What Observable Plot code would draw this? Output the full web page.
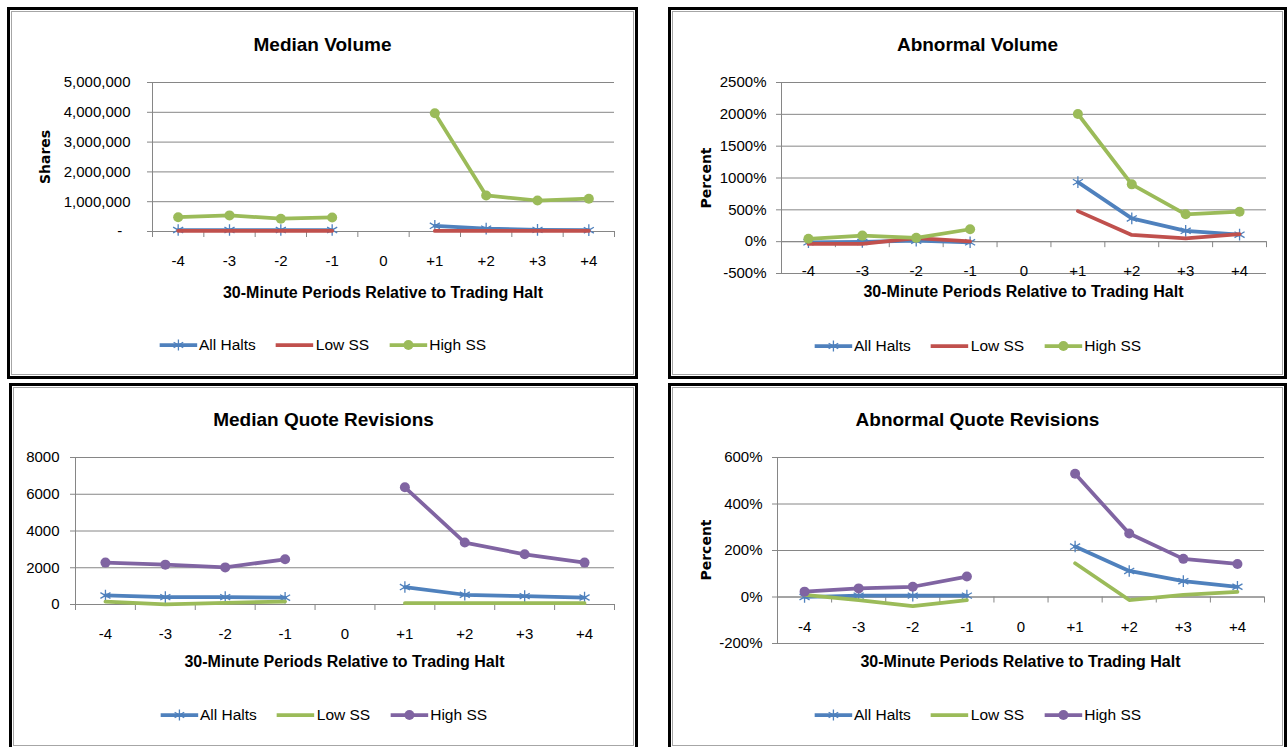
<!DOCTYPE html>
<html>
<head>
<meta charset="utf-8">
<script src="https://cdn.jsdelivr.net/npm/d3@7"></script>
<script src="https://cdn.jsdelivr.net/npm/@observablehq/plot@0.6"></script>
<style>
  html, body { margin: 0; padding: 0; background: #fff; }
  #page { position: relative; width: 1288px; height: 747px; overflow: hidden; font-family: "Liberation Sans", Arial, sans-serif; }
  .panel { position: absolute; box-sizing: border-box; border: 3px solid #000; }
  .panel .inner { position: absolute; left: 1px; top: 1px; right: 1px; bottom: 1px; border: 1.5px solid #a6a6a6; }
  .chart { position: absolute; }
  .txt { position: absolute; white-space: nowrap; line-height: 1; color: #000; }
  .title { font-weight: bold; font-size: 19px; transform: translate(-50%, -50%); }
  .xtitle { font-weight: bold; font-size: 16px; transform: translate(-50%, -50%); }
  .ytitle { font-family: "DejaVu Sans", sans-serif; font-weight: bold; font-size: 14px; transform: translate(-50%, -50%) rotate(-90deg); }
  .legend { position: absolute; display: flex; align-items: center; transform: translate(-50%, -50%); font-size: 15.5px; white-space: nowrap; }
  .legend .item { display: flex; align-items: center; margin: 0 10px; }
  .legend svg { display: block; margin-right: 2px; }
</style>
</head>
<body>
<div id="page"></div>
<script>
// ---------- data ----------
const periods = [-4, -3, -2, -1, 0, 1, 2, 3, 4];
const periodLabels = ["-4", "-3", "-2", "-1", "0", "+1", "+2", "+3", "+4"];
const seriesNames = ["All Halts", "Low SS", "High SS"];

// Median Volume (shares)
const volAll  = [50000, 50000, 50000, 50000, null, 190000, 95000, 55000, 45000];
const volLow  = [25000, 25000, 25000, 25000, null, 20000, 20000, 20000, 20000];
const volHigh = [480000, 540000, 430000, 470000, null, 3970000, 1210000, 1040000, 1100000];
const volTicks = [0, 1000000, 2000000, 3000000, 4000000, 5000000];

// Abnormal Volume (percent)
const abVolAll  = [-10, -5, 15, -10, null, 935, 365, 170, 110];
const abVolLow  = [-35, -35, 55, 5, null, 480, 105, 50, 120];
const abVolHigh = [45, 95, 60, 195, null, 2005, 900, 430, 470];
const abVolTicks = [-500, 0, 500, 1000, 1500, 2000, 2500];

// Median Quote Revisions
const qAll  = [490, 400, 400, 370, null, 950, 530, 455, 380];
const qLow  = [160, 10, 90, 160, null, 70, 70, 70, 70];
const qHigh = [2280, 2170, 2020, 2460, null, 6380, 3370, 2730, 2280];
const qTicks = [0, 2000, 4000, 6000, 8000];

// Abnormal Quote Revisions (percent)
const abQAll  = [0, 6, 6, 6, null, 217, 112, 68, 44];
const abQLow  = [9, -13, -39, -13, null, 145, -13, 9, 22];
const abQHigh = [23, 37, 44, 88, null, 530, 273, 164, 142];
const abQTicks = [-200, 0, 200, 400, 600];

// ---------- styles ----------
const blue = "#4F81BD", red = "#C0504D", green = "#9BBB59", purple = "#8064A2";
const gridColor = "#868686";
const lineW = 3.75;

const page = document.getElementById("page");

function legendSwatch(color, marker) {
  const w = 38, h = 14;
  let s = `<svg width="${w}" height="${h}"><line x1="0" x2="${w}" y1="${h/2}" y2="${h/2}" stroke="${color}" stroke-width="${lineW}" stroke-linecap="butt"/>`;
  const cx = w / 2, cy = h / 2;
  if (marker === "asterisk") {
    const r = 5.5;
    s += `<g stroke="${color}" stroke-width="1.3">`;
    s += `<line x1="${cx}" x2="${cx}" y1="${cy - r}" y2="${cy + r}"/>`;
    s += `<line x1="${cx - r*0.87}" x2="${cx + r*0.87}" y1="${cy - r/2}" y2="${cy + r/2}"/>`;
    s += `<line x1="${cx - r*0.87}" x2="${cx + r*0.87}" y1="${cy + r/2}" y2="${cy - r/2}"/>`;
    s += `</g>`;
  } else if (marker === "circle") {
    s += `<circle cx="${cx}" cy="${cy}" r="5" fill="${color}"/>`;
  }
  return s + `</svg>`;
}

function drawPanel(p) {
  const frame = document.createElement("div");
  frame.className = "panel";
  Object.assign(frame.style, { left: p.left + "px", top: p.top + "px", width: p.width + "px", height: p.height + "px" });
  frame.innerHTML = '<div class="inner"></div>';
  page.appendChild(frame);

  const mL = p.plotLeft - p.left, mR = p.left + p.width - p.plotRight;
  const mT = p.plotTop - p.top, mB = p.top + p.height - p.plotBottom;
  const innerH = p.plotBottom - p.plotTop;
  const tickLen = (p.yDomain[1] - p.yDomain[0]) * 6 / innerH;
  const boundaries = periods.map(d => d - 0.5).concat([periods[periods.length - 1] + 0.5]);

  const marks = [
    Plot.gridY(p.yTicks, { stroke: gridColor, strokeOpacity: 1, strokeWidth: 1 }),
    Plot.axisY(p.yTicks, { tickSize: 5, tickPadding: p.tickPadding, tickFormat: p.tickFormat, stroke: gridColor, fill: "#000", fontSize: 15, label: null }),
    Plot.ruleX([boundaries[0]], { stroke: gridColor, strokeWidth: 1 }),
    Plot.ruleY([0], { stroke: gridColor, strokeWidth: 1 }),
    Plot.ruleX(boundaries, { x: d => d, y1: 0, y2: -tickLen, stroke: gridColor, strokeWidth: 1 }),
    Plot.text(periodLabels, { x: (d, i) => periods[i], y: 0, dy: 30, text: d => d, fontSize: 15, fill: "#000" })
  ];
  p.series.forEach(s => {
    marks.push(Plot.line(s.values, { x: (d, i) => periods[i], y: d => d, stroke: s.color, strokeWidth: lineW, strokeLinejoin: "round", strokeLinecap: "round" }));
    if (s.marker === "asterisk") {
      marks.push(Plot.dot(s.values, { x: (d, i) => periods[i], y: d => d, filter: d => d != null, symbol: "asterisk", r: 5.5, stroke: s.color, strokeWidth: 1.3 }));
    } else if (s.marker === "circle") {
      marks.push(Plot.dot(s.values, { x: (d, i) => periods[i], y: d => d, filter: d => d != null, symbol: "circle", r: 5, fill: s.color, stroke: "none" }));
    }
  });

  const chart = Plot.plot({
    width: p.width, height: p.height,
    marginLeft: mL, marginRight: mR, marginTop: mT, marginBottom: mB,
    x: { domain: [-4.5, 4.5], axis: null },
    y: { domain: p.yDomain, axis: null },
    style: { fontFamily: '"Liberation Sans", Arial, sans-serif', fontSize: "15px", background: "transparent", overflow: "visible", color: "#000" },
    marks
  });
  const holder = document.createElement("div");
  holder.className = "chart";
  Object.assign(holder.style, { left: p.left + "px", top: p.top + "px", width: p.width + "px", height: p.height + "px" });
  holder.appendChild(chart);
  page.appendChild(holder);

  const cx = p.left + p.width / 2;
  const t = document.createElement("div");
  t.className = "txt title"; t.textContent = p.title;
  Object.assign(t.style, { left: cx + "px", top: (p.top + p.titleDy) + "px" });
  page.appendChild(t);

  const xt = document.createElement("div");
  xt.className = "txt xtitle"; xt.textContent = "30-Minute Periods Relative to Trading Halt";
  Object.assign(xt.style, { left: ((p.plotLeft + p.plotRight) / 2) + "px", top: p.xTitleY + "px" });
  page.appendChild(xt);

  if (p.yTitle) {
    const yt = document.createElement("div");
    yt.className = "txt ytitle"; yt.textContent = p.yTitle;
    Object.assign(yt.style, { left: p.yTitleX + "px", top: p.yTitleY + "px" });
    page.appendChild(yt);
  }

  const lg = document.createElement("div");
  lg.className = "legend";
  Object.assign(lg.style, { left: cx + "px", top: p.legendY + "px" });
  lg.innerHTML = p.series.map((s, i) =>
    `<div class="item">${legendSwatch(s.color, s.marker)}<span>${seriesNames[i]}</span></div>`).join("");
  page.appendChild(lg);
}

const pctFormat = d => d + "%";

drawPanel({
  left: 7, top: 7, width: 631, height: 372,
  plotLeft: 152, plotRight: 614, plotTop: 82, plotBottom: 231,
  yDomain: [0, 5000000], yTicks: volTicks, tickPadding: 17,
  tickFormat: d => d === 0 ? "-\u00a0\u00a0" : d3.format(",")(d),
  title: "Median Volume", titleDy: 37, xTitleY: 293, legendY: 345,
  yTitle: "Shares", yTitleX: 45, yTitleY: 157,
  series: [
    { values: volAll, color: blue, marker: "asterisk" },
    { values: volLow, color: red, marker: null },
    { values: volHigh, color: green, marker: "circle" }
  ]
});

drawPanel({
  left: 668, top: 7, width: 619, height: 372,
  plotLeft: 781, plotRight: 1266, plotTop: 82, plotBottom: 273,
  yDomain: [-500, 2500], yTicks: abVolTicks, tickPadding: 10,
  tickFormat: pctFormat,
  title: "Abnormal Volume", titleDy: 37, xTitleY: 292, legendY: 346,
  yTitle: "Percent", yTitleX: 706, yTitleY: 178,
  series: [
    { values: abVolAll, color: blue, marker: "asterisk" },
    { values: abVolLow, color: red, marker: null },
    { values: abVolHigh, color: green, marker: "circle" }
  ]
});

drawPanel({
  left: 9, top: 383, width: 629, height: 367,
  plotLeft: 75, plotRight: 614, plotTop: 457, plotBottom: 604,
  yDomain: [0, 8000], yTicks: qTicks, tickPadding: 11,
  tickFormat: d => String(d),
  title: "Median Quote Revisions", titleDy: 36, xTitleY: 662, legendY: 715,
  yTitle: null,
  series: [
    { values: qAll, color: blue, marker: "asterisk" },
    { values: qLow, color: green, marker: null },
    { values: qHigh, color: purple, marker: "circle" }
  ]
});

drawPanel({
  left: 668, top: 383, width: 619, height: 367,
  plotLeft: 777, plotRight: 1264, plotTop: 457, plotBottom: 643,
  yDomain: [-200, 600], yTicks: abQTicks, tickPadding: 10,
  tickFormat: pctFormat,
  title: "Abnormal Quote Revisions", titleDy: 36, xTitleY: 662, legendY: 715,
  yTitle: "Percent", yTitleX: 706, yTitleY: 550,
  series: [
    { values: abQAll, color: blue, marker: "asterisk" },
    { values: abQLow, color: green, marker: null },
    { values: abQHigh, color: purple, marker: "circle" }
  ]
});
</script>
</body>
</html>
